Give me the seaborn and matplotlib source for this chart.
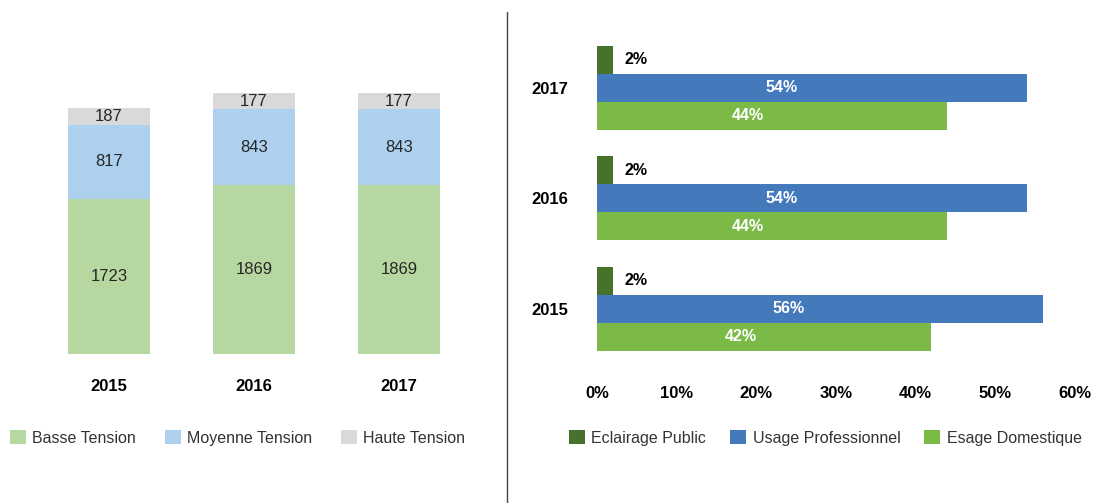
import matplotlib
matplotlib.use("Agg")
import matplotlib.pyplot as plt
import numpy as np
import pandas as pd
import seaborn as sns
from matplotlib.patches import Patch
from matplotlib.lines import Line2D

# left chart: consumption by voltage level
years = ["2015", "2016", "2017"]
basse = [1723, 1869, 1869]
moyenne = [817, 843, 843]
haute = [187, 177, 177]
tension_names = ["Basse Tension", "Moyenne Tension", "Haute Tension"]
tension_colors = ["#b6d7a0", "#acd0ee", "#d9d9d9"]

# right chart: share by usage
usage_years = ["2017", "2016", "2015"]
usage_names = ["Eclairage Public", "Usage Professionnel", "Esage Domestique"]
eclairage = [2, 2, 2]
professionnel = [54, 54, 56]
domestique = [44, 44, 42]
usage_colors = ["#46722c", "#4479bc", "#7bba47"]
pct_ticks = [0, 10, 20, 30, 40, 50, 60]

sns.set_theme(style="white")
plt.rcParams["font.family"] = ["Liberation Sans", "DejaVu Sans"]

fig = plt.figure(figsize=(11.05, 5.03), dpi=100)
W, H = 1105, 503


def box(x0, y0, x1, y1):
    return [x0 / W, 1 - y1 / H, (x1 - x0) / W, (y1 - y0) / H]


# ---- left stacked bars ----
ax1 = fig.add_axes(box(20, 40, 490, 354))
df = pd.DataFrame({"year": years, "basse": basse, "moyenne": moyenne, "haute": haute})
df["mid_top"] = df.basse + df.moyenne
df["total"] = df.mid_top + df.haute
bw = 0.56
for col, c in zip(["total", "mid_top", "basse"], tension_colors[::-1]):
    sns.barplot(data=df, x="year", y=col, color=c, width=bw, saturation=1,
                errorbar=None, linewidth=0, edgecolor="none", ax=ax1)
for i, row in df.iterrows():
    ax1.text(i, row.basse / 2, str(row.basse), ha="center", va="center",
             fontsize=12, color="#262626")
    ax1.text(i, row.basse + row.moyenne / 2, str(row.moyenne), ha="center",
             va="center", fontsize=12, color="#262626")
    ax1.text(i, row.mid_top + row.haute / 2, str(row.haute), ha="center",
             va="center", fontsize=12, color="#262626")
ax1.set_xlim(-0.614, 2.628)
ax1.set_ylim(0, 3481)
ax1.set_yticks([])
ax1.set_xlabel("")
ax1.set_ylabel("")
ax1.tick_params(axis="x", length=0, pad=18, labelsize=12)
for lab in ax1.get_xticklabels():
    lab.set_fontweight("bold")
    lab.set_color("black")
sns.despine(ax=ax1, left=True, bottom=True)

# ---- right grouped horizontal bars ----
ax2 = fig.add_axes(box(597, 30.5, 1090.7, 364.2))
long = pd.DataFrame({
    "year": usage_years * 3,
    "usage": [usage_names[0]] * 3 + [usage_names[1]] * 3 + [usage_names[2]] * 3,
    "value": eclairage + professionnel + domestique,
})
sns.barplot(data=long, y="year", x="value", hue="usage", orient="h",
            order=usage_years, hue_order=usage_names, palette=usage_colors,
            width=0.76, saturation=1, errorbar=None, legend=False,
            linewidth=0, edgecolor="none", ax=ax2)
step = 0.76 / 3
for j, name in enumerate(usage_names):
    sub = long[long.usage == name]
    for i, (_, row) in enumerate(sub.iterrows()):
        y = i + (j - 1) * step
        if j == 0:
            ax2.text(row.value + 1.5, y, f"{row.value}%", ha="left", va="center",
                     fontsize=11.5, fontweight="bold", color="black")
        else:
            ax2.text(row.value * 0.43, y, f"{row.value}%", ha="center", va="center",
                     fontsize=11.5, fontweight="bold", color="white")
ax2.set_xlim(0, 62)
ax2.set_ylim(2.5, -0.52)
ax2.set_xticks(pct_ticks)
ax2.set_xticklabels([f"{t}%" for t in pct_ticks])
ax2.set_xlabel("")
ax2.set_ylabel("")
ax2.tick_params(axis="x", length=0, pad=16, labelsize=12)
ax2.tick_params(axis="y", length=0, pad=21, labelsize=12)
for lab in ax2.get_xticklabels() + ax2.get_yticklabels():
    lab.set_fontweight("bold")
    lab.set_color("black")
sns.despine(ax=ax2, left=True, bottom=True)

# ---- legends ----
h1 = [Patch(facecolor=c, edgecolor="none") for c in tension_colors]
fig.legend(h1, tension_names, loc="center left", bbox_to_anchor=(10 / W, 1 - 438 / H),
           ncol=3, frameon=False, fontsize=11.5, labelcolor="#333333",
           handlelength=1.0, handleheight=1.0, handletextpad=0.4,
           columnspacing=1.8, borderpad=0, borderaxespad=0)
h2 = [Patch(facecolor=c, edgecolor="none") for c in usage_colors]
fig.legend(h2, usage_names, loc="center left", bbox_to_anchor=(569 / W, 1 - 438 / H),
           ncol=3, frameon=False, fontsize=11.5, labelcolor="#333333",
           handlelength=1.0, handleheight=1.0, handletextpad=0.4,
           columnspacing=1.5, borderpad=0, borderaxespad=0)

# separator
fig.add_artist(Line2D([507 / W, 507 / W], [0, 1 - 12 / H], color="#444444", lw=1))

fig.savefig("out.png", dpi=100)
